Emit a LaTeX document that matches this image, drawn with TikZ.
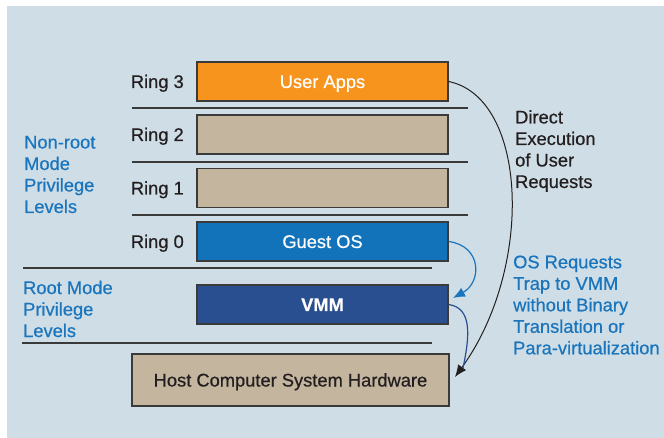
\documentclass[tikz,border=0pt]{standalone}
\usepackage{fontspec}
\setmainfont{Liberation Sans}[FakeBold=0.6]
\usetikzlibrary{arrows.meta}
\definecolor{bgblue}{HTML}{CFDEE6}
\definecolor{orangebox}{HTML}{F7941D}
\definecolor{tanbox}{HTML}{C4B59E}
\definecolor{guestblue}{HTML}{1273BB}
\definecolor{vmmblue}{HTML}{2A4F91}
\definecolor{textblue}{HTML}{1B75BC}
\definecolor{edgegray}{HTML}{3A3A3A}
\definecolor{textdark}{HTML}{231F20}
\tikzset{
  every node/.style={font=\fontsize{18.3}{21.5}\selectfont, inner sep=0pt},
  oneline/.style={text height=15pt, text depth=2pt},
  ringbox/.style={oneline, draw=edgegray, line width=1.4pt, minimum width=251pt, minimum height=39pt, text=white},
  ringlabel/.style={oneline, anchor=east, text=textdark},
  sidelabel/.style={align=left, anchor=west, text=textblue},
  sep/.style={draw=edgegray, line width=1.2pt},
}
\begin{document}
\begin{tikzpicture}[x=1pt, y=-1pt]
\useasboundingbox (0,0) rectangle (664,438);
\fill[white] (0,0) rectangle (664,438);
\fill[bgblue] (7,6) rectangle (664,438);

% boxes
\node[ringbox, fill=orangebox] (apps) at (322.5,81.5) {User Apps};
\node[ringbox, fill=tanbox] (r2) at (322.5,134.5) {};
\node[ringbox, fill=tanbox] (r1) at (322.5,188) {};
\node[ringbox, fill=guestblue] (guest) at (322.5,241.5) {Guest OS};
\node[ringbox, fill=vmmblue] (vmm) at (322.5,304.5) {\bfseries VMM};
\node[oneline, draw=edgegray, line width=1.4pt, fill=tanbox, minimum width=317pt, minimum height=52pt, text=textdark] (host) at (290.5,380) {Host Computer System Hardware};

% ring labels
\node[ringlabel] (l3) at (184,81.5) {Ring 3};
\node[ringlabel] (l2) at (184,134.5) {Ring 2};
\node[ringlabel] (l1) at (184,188) {Ring 1};
\node[ringlabel] (l0) at (184,241.5) {Ring 0};

% separator lines
\coordinate (s1a) at (132,108); \coordinate (s1b) at (468,108);
\coordinate (s2a) at (132,162); \coordinate (s2b) at (468,162);
\coordinate (s3a) at (132,215); \coordinate (s3b) at (468,215);
\coordinate (s4a) at (23,268);  \coordinate (s4b) at (432,268);
\coordinate (s5a) at (22,343);  \coordinate (s5b) at (432,343);
\draw[sep] (s1a) -- (s1b);
\draw[sep] (s2a) -- (s2b);
\draw[sep] (s3a) -- (s3b);
\draw[sep] (s4a) -- (s4b);
\draw[sep] (s5a) -- (s5b);

% side labels
\node[sidelabel] (nonroot) at (24,174.5) {Non-root\\Mode\\Privilege\\Levels};
\node[sidelabel] (root) at (23,309) {Root Mode\\Privilege\\Levels};
\node[align=left, anchor=west, text=textdark] (direct) at (515,151) {Direct\\Execution\\of User\\Requests};
\node[sidelabel] (osreq) at (513,305) {OS Requests\\Trap to VMM\\without Binary\\Translation or\\Para-virtualization};

% connectors
\coordinate (blacktip) at (455,377);
\coordinate (bluetip) at (453,298);
\coordinate (vmmend) at (463,368);
\draw[line width=1pt, textdark, -{Latex[length=12pt,width=10pt]}] (apps.east) .. controls (528,98) and (534,268) .. (blacktip);
\draw[line width=1.2pt, textblue, -{Latex[length=12pt,width=10pt]}] (guest.east) .. controls (482,246) and (482,282) .. (bluetip);
\draw[line width=1.2pt, vmmblue] (vmm.east) .. controls (472,308) and (470,335) .. (vmmend);
\end{tikzpicture}
\end{document}
